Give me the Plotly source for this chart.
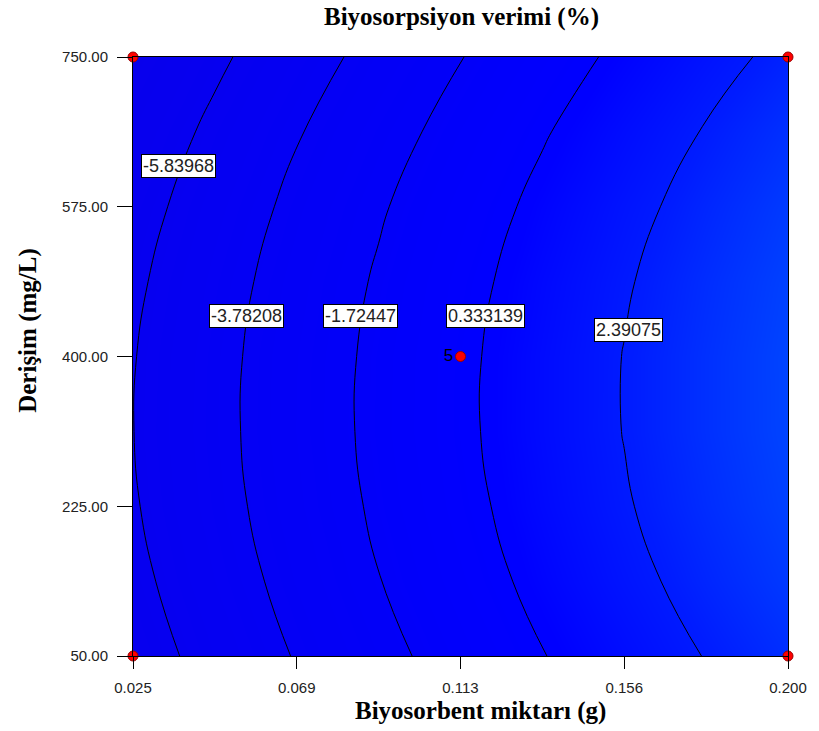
import plotly.graph_objects as go

# Factor grid (Biyosorbent miktarı, g) and (Derişim, mg/L)
x_vals = [0.025, 0.046875, 0.06875, 0.090625, 0.1125, 0.134375, 0.15625, 0.178125, 0.200]
y_vals = [50.0, 137.5, 225.0, 312.5, 400.0, 487.5, 575.0, 662.5, 750.0]

# Response: Biyosorpsiyon verimi (%) estimated from the contour picture; rows follow y_vals
z_rows = [
    [-6.74, -5.16, -3.67, -2.26, -0.95, 0.27, 1.41, 2.45, 3.40],
    [-6.28, -4.69, -3.19, -1.77, -0.45, 0.78, 1.92, 2.97, 3.93],
    [-5.98, -4.38, -2.88, -1.46, -0.13, 1.11, 2.26, 3.32, 4.29],
    [-5.86, -4.26, -2.74, -1.31, 0.03, 1.27, 2.43, 3.50, 4.47],
    [-5.91, -4.30, -2.77, -1.34, 0.01, 1.26, 2.43, 3.50, 4.49],
    [-6.14, -4.51, -2.98, -1.54, -0.18, 1.08, 2.25, 3.34, 4.33],
    [-6.53, -4.90, -3.36, -1.90, -0.54, 0.73, 1.91, 3.00, 4.00],
    [-7.09, -5.45, -3.90, -2.45, -1.08, 0.20, 1.39, 2.49, 3.50],
    [-7.83, -6.18, -4.63, -3.16, -1.78, -0.49, 0.71, 1.81, 2.83],
]

# Contour levels shown in the chart
levels = [-5.83968, -3.78208, -1.72447, 0.333139, 2.39075]
level_labels = ["-5.83968", "-3.78208", "-1.72447", "0.333139", "2.39075"]
label_x = [0.0372, 0.0552, 0.0857, 0.1191, 0.1573]
label_y = [622.7, 447.4, 447.4, 447.4, 431.0]

# Design points
pt_x = [0.025, 0.025, 0.200, 0.200, 0.1125]
pt_y = [50.0, 750.0, 50.0, 750.0, 400.0]
pt_text = ["", "", "", "", "5"]

x_ticks = [0.025, 0.06875, 0.1125, 0.15625, 0.200]
x_ticktext = ["0.025", "0.069", "0.113", "0.156", "0.200"]
y_ticks = [50, 225, 400, 575, 750]
y_ticktext = ["50.00", "225.00", "400.00", "575.00", "750.00"]

zmin, zmax = -7.83, 4.49
colorscale = [
    [0.0, "rgb(8,0,236)"],
    [0.47, "rgb(2,0,248)"],
    [0.68, "rgb(0,0,255)"],
    [0.84, "rgb(0,28,255)"],
    [1.0, "rgb(0,68,255)"],
]

step = (levels[-1] - levels[0]) / (len(levels) - 1)

fig = go.Figure()
fig.add_trace(go.Contour(
    x=x_vals, y=y_vals, z=z_rows,
    zmin=zmin, zmax=zmax, colorscale=colorscale, showscale=False,
    contours=dict(start=levels[0], end=levels[-1] + 1e-6, size=step,
                  coloring="heatmap", showlabels=False),
    line=dict(color="black", width=1, smoothing=1.3),
    hoverinfo="skip",
))

fig.add_trace(go.Scatter(
    x=pt_x, y=pt_y, mode="markers+text", text=pt_text,
    textposition="middle left",
    textfont=dict(family="Arial, Liberation Sans", size=17, color="black"),
    marker=dict(color="#ff0000", size=10, line=dict(color="#990000", width=1)),
    cliponaxis=False, hoverinfo="skip", showlegend=False,
))

for lx, ly, lt in zip(label_x, label_y, level_labels):
    fig.add_annotation(
        x=lx, y=ly, text=lt, showarrow=False,
        font=dict(family="Arial, Liberation Sans", size=18, color="#222222"),
        bgcolor="white", bordercolor="black", borderwidth=1, borderpad=1,
    )

serif = "Times New Roman, Liberation Serif, serif"
title_font = dict(family=serif, size=25, color="black")
fig.add_annotation(text="<b>Biyosorpsiyon verimi (%)</b>", xref="paper", yref="paper",
                   x=(464 - 133) / 660, y=1 + (57 - 17) / 599, showarrow=False,
                   xanchor="center", yanchor="middle", font=title_font)
fig.add_annotation(text="<b>Biyosorbent miktarı (g)</b>", xref="paper", yref="paper",
                   x=(483 - 133) / 660, y=-(711 - 656) / 599, showarrow=False,
                   xanchor="center", yanchor="middle", font=title_font)
fig.add_annotation(text="<b>Derişim (mg/L)</b>", xref="paper", yref="paper",
                   x=-(133 - 27) / 660, y=(656 - 330) / 599, showarrow=False,
                   textangle=-90, xanchor="center", yanchor="middle", font=title_font)

tick_font = dict(family="Arial, Liberation Sans", size=15, color="#222222")
fig.update_layout(
    width=819, height=731,
    margin=dict(l=133, r=26, t=57, b=75),
    paper_bgcolor="white", plot_bgcolor="white",
    showlegend=False,
    xaxis=dict(range=[0.025, 0.200], tickvals=x_ticks, ticktext=x_ticktext,
               ticks="outside", ticklen=12, tickcolor="black", tickwidth=1,
               ticklabelstandoff=6,
               showline=True, linecolor="black", linewidth=1, mirror=True,
               showgrid=False, zeroline=False, tickfont=tick_font),
    yaxis=dict(range=[50, 750], tickvals=y_ticks, ticktext=y_ticktext,
               ticks="outside", ticklen=15, tickcolor="black", tickwidth=1,
               ticklabelstandoff=6,
               showline=True, linecolor="black", linewidth=1, mirror=True,
               showgrid=False, zeroline=False, tickfont=tick_font),
)

fig.write_html("out.html")
